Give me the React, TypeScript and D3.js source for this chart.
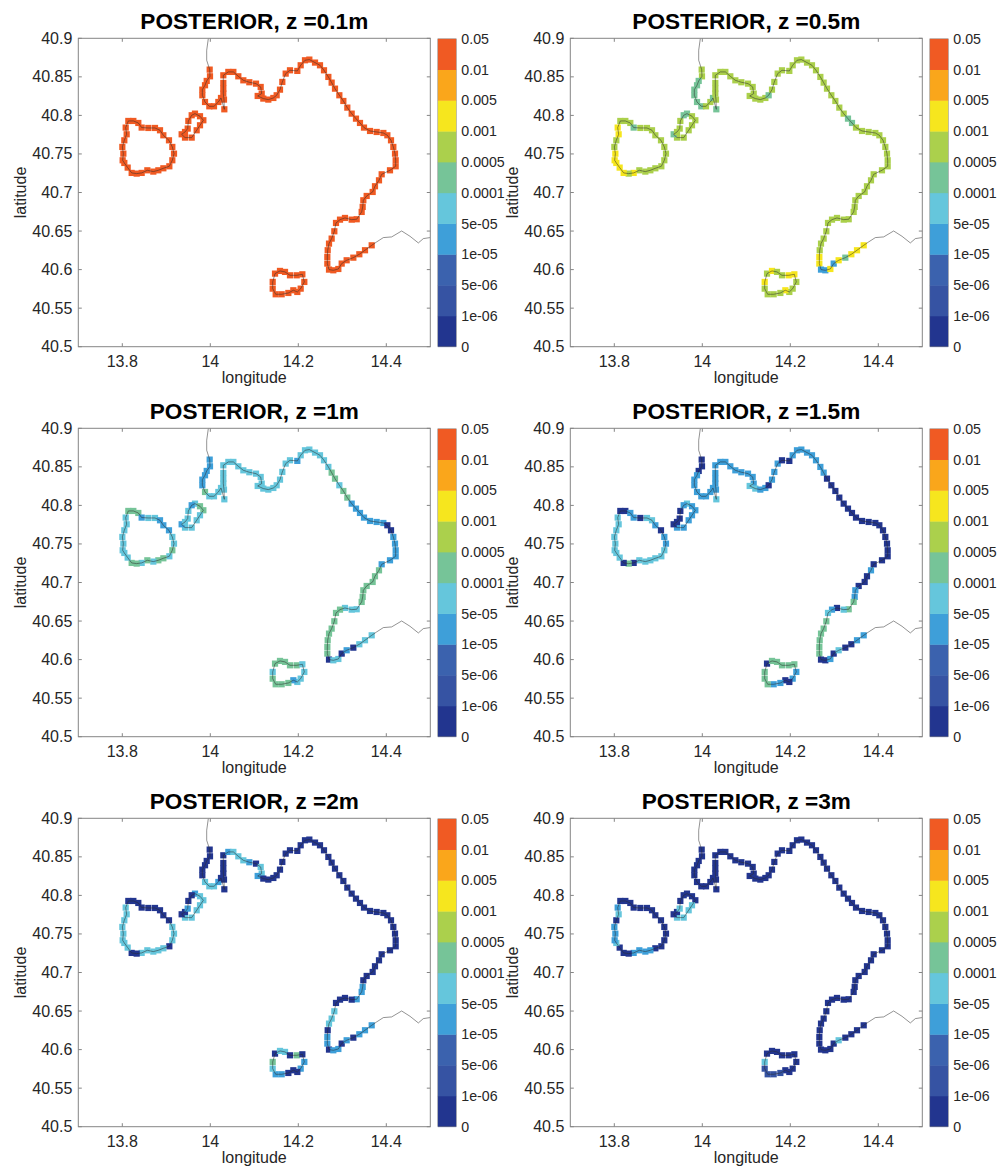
import React from "react";
import * as d3 from "d3";

// band representatives (a value falling in each colour class)
const N = 5e-7, M = 3e-6, B = 3e-5, C = 7e-5, T = 3e-4, L = 7e-4, Y = 3e-3, R = 0.03;

const bandEdges = [1e-6, 5e-6, 1e-5, 5e-5, 1e-4, 5e-4, 1e-3, 5e-3, 1e-2];
const bandColors = ["#22358f", "#3653a3", "#3b62ae", "#3e9fd9", "#65c6dc", "#76c498", "#abd04c", "#f6e61e", "#faa61b", "#f05a23"];
const barLabels = ["0", "1e-06", "5e-06", "1e-05", "5e-05", "0.0001", "0.0005", "0.001", "0.005", "0.01", "0.05"];

const xTicks = [13.8, 14, 14.2, 14.4];
const yTicks = [40.5, 40.55, 40.6, 40.65, 40.7, 40.75, 40.8, 40.85, 40.9];
const titles = ["POSTERIOR, z =0.1m", "POSTERIOR, z =0.5m", "POSTERIOR, z =1m", "POSTERIOR, z =1.5m", "POSTERIOR, z =2m", "POSTERIOR, z =3m"];

// coast without stations
const northLon = [13.9955, 13.9918, 13.9918, 13.9986];
const northLat = [40.8996, 40.8845, 40.8715, 40.8594];
const eastLon = [14.3668, 14.3781, 14.3933, 14.4122, 14.4349, 14.4539, 14.4728, 14.4842, 14.4993];
const eastLat = [40.6315, 40.6359, 40.6415, 40.6424, 40.6501, 40.6432, 40.6346, 40.6402, 40.6415];

// mainland stations
const mainLon = [13.9986, 13.9993, 13.9918, 13.988, 13.9819, 13.9819, 13.988, 13.9978, 14.0084, 14.0183,
  14.0243, 14.0319, 14.0311, 14.0296, 14.0296, 14.0296, 14.0296, 14.041, 14.0524, 14.0637,
  14.0751, 14.0887, 14.1039, 14.1145, 14.1168, 14.1077, 14.1205, 14.1319, 14.1433, 14.1508,
  14.1584, 14.1637, 14.1713, 14.1811, 14.1978, 14.2054, 14.2152, 14.2251, 14.238, 14.2493,
  14.2584, 14.2683, 14.2758, 14.2834, 14.2933, 14.3024, 14.3114, 14.3213, 14.3311, 14.3402,
  14.3493, 14.363, 14.3781, 14.3933, 14.4024, 14.4107, 14.416, 14.4198, 14.4213, 14.4213,
  14.4084, 14.3895, 14.3834, 14.3743, 14.369, 14.3554, 14.3478, 14.3463, 14.344, 14.3327,
  14.3213, 14.3061, 14.2948, 14.2857, 14.2819, 14.2758, 14.2698, 14.2668, 14.266, 14.266,
  14.2698, 14.2796, 14.291, 14.2986, 14.3099, 14.3251, 14.3387, 14.3516, 14.3668];
const mainLat = [40.8594, 40.8507, 40.8447, 40.8391, 40.8334, 40.8261, 40.8174, 40.8118, 40.8118, 40.8174,
  40.8226, 40.8079, 40.8205, 40.8283, 40.8347, 40.8421, 40.852, 40.8564, 40.8564, 40.8507,
  40.8455, 40.843, 40.8412, 40.8369, 40.8283, 40.8252, 40.8218, 40.8205, 40.8226, 40.8261,
  40.8334, 40.8434, 40.8542, 40.8585, 40.8577, 40.865, 40.8715, 40.8724, 40.8685, 40.865,
  40.8585, 40.8499, 40.8425, 40.8347, 40.8261, 40.8187, 40.8101, 40.8023, 40.7958, 40.7902,
  40.7842, 40.7798, 40.7785, 40.7772, 40.7742, 40.7677, 40.7591, 40.7504, 40.7418, 40.734,
  40.7288, 40.7236, 40.7158, 40.7081, 40.7007, 40.6955, 40.6899, 40.6813, 40.6748, 40.6653,
  40.6648, 40.667, 40.6648, 40.6605, 40.6497, 40.6402, 40.6337, 40.6251, 40.6164, 40.6078,
  40.6, 40.5991, 40.6008, 40.6078, 40.6121, 40.6155, 40.6199, 40.6251, 40.6315];

const ischiaLon = [13.8137, 13.8251, 13.8364, 13.844, 13.8592, 13.8743, 13.8857, 13.8933, 13.9061, 13.9137,
  13.9175, 13.9137, 13.9069, 13.8933, 13.8819, 13.8705, 13.8569, 13.844, 13.8327, 13.8213,
  13.8122, 13.8046, 13.8008, 13.8024, 13.8001, 13.8046, 13.8099, 13.8077];
const ischiaLat = [40.7928, 40.7928, 40.7902, 40.7842, 40.7837, 40.7837, 40.7807, 40.7742, 40.7677, 40.7591,
  40.7504, 40.7418, 40.734, 40.7314, 40.7288, 40.7271, 40.7288, 40.7254, 40.7245, 40.7254,
  40.7323, 40.7383, 40.7418, 40.7504, 40.7591, 40.7677, 40.7755, 40.7842];

const procidaLon = [13.9652, 13.9766, 13.9842, 13.9766, 13.969, 13.9577, 13.9425, 13.9349, 13.9425, 13.9486, 13.9501, 13.9577];
const procidaLat = [40.8023, 40.7989, 40.7937, 40.7872, 40.7807, 40.7712, 40.7712, 40.7755, 40.7785, 40.7829, 40.7928, 40.8002];

const capriLon = [14.1471, 14.1584, 14.1698, 14.1811, 14.1963, 14.2092, 14.2137, 14.2054, 14.1978, 14.1887, 14.1774, 14.1622, 14.1486, 14.1418, 14.1418];
const capriLat = [40.5948, 40.5983, 40.597, 40.5926, 40.5926, 40.5939, 40.584, 40.5753, 40.571, 40.5732, 40.5697, 40.568, 40.568, 40.5753, 40.584];

// station values, order: mainland, Ischia, Procida, Capri
const z01 = [
  R, R, R, R, R, R, R, R, R, R, R, R, R, R, R, R, R, R, R, R, R, R, R, R, R, R, R, R, R, R,
  R, R, R, R, R, R, R, R, R, R, R, R, R, R, R, R, R, R, R, R, R, R, R, R, R, R, R, R, R, R,
  R, R, R, R, R, R, R, R, R, R, R, R, R, R, R, R, R, R, R, R, R, R, R, R, R, R, R, R, R,
  R, R, R, R, R, R, R, R, R, R, R, R, R, R, R, R, R, R, R, R, R, R, R, R, R, R, R, R,
  R, R, R, R, R, R, R, R, R, R, R, R,
  R, R, R, R, R, R, R, R, R, R, R, R, R, R, R,
];
const z05 = [
  L, L, T, T, T, T, T, T, L, L, T, T, L, L, L, L, L, L, L, L, L, L, L, L, L, L, L, L, L, T,
  L, L, L, L, L, L, L, L, L, L, L, L, L, L, L, L, L, L, T, T, L, L, L, L, L, L, L, L, L, L,
  L, L, L, L, L, L, L, L, L, L, L, L, L, L, L, L, L, L, Y, Y, B, B, Y, B, Y, T, Y, Y, Y,
  L, L, L, T, L, L, L, L, L, L, L, L, L, L, L, L, L, Y, L, Y, Y, Y, Y, Y, L, L, Y, Y,
  T, L, L, L, L, L, L, T, L, L, L, T,
  L, Y, L, L, Y, Y, L, L, L, Y, L, L, L, L, Y,
];
const z1 = [
  B, B, B, B, B, B, T, C, C, C, C, C, C, C, C, C, C, C, C, C, C, C, C, C, C, C, C, C, C, C,
  C, C, C, C, B, C, C, C, C, C, C, C, T, T, C, T, T, B, B, B, B, B, B, B, N, N, B, B, B, B,
  B, B, T, T, T, T, T, T, T, C, C, C, T, T, T, T, T, T, T, T, N, C, C, N, B, N, C, C, C,
  T, T, T, B, C, C, B, B, B, C, C, T, C, T, T, C, T, C, T, T, C, C, C, C, C, C, C, C,
  C, T, T, C, C, C, C, B, C, C, C, B,
  T, T, T, T, T, C, C, C, C, B, T, T, T, T, C,
];
const z15 = [
  N, N, N, B, B, B, B, B, B, B, B, C, B, B, B, B, B, B, B, B, B, B, B, B, B, C, C, B, B, N,
  B, B, B, N, N, B, B, B, B, B, B, B, B, N, N, N, N, N, N, N, N, N, N, N, N, N, N, N, N, N,
  N, N, B, N, N, N, B, B, T, T, C, N, B, C, T, T, T, T, T, T, N, N, B, N, C, N, N, B, B,
  N, N, B, B, N, C, C, B, N, B, B, C, C, C, C, C, C, N, T, N, C, C, C, C, C, C, C, C,
  C, B, B, B, B, B, B, N, N, N, N, B,
  N, T, T, T, T, T, B, B, N, N, B, B, T, T, T,
];
const z2 = [
  N, N, N, N, N, N, C, C, C, B, N, N, N, N, N, N, N, B, C, C, C, B, N, C, C, B, N, N, N, N,
  N, N, N, N, N, N, N, N, N, N, N, N, N, N, N, N, N, N, N, N, N, N, N, N, N, N, N, N, N, N,
  N, N, N, N, N, N, N, B, B, B, N, N, N, N, C, C, C, N, B, B, N, B, B, N, B, N, B, B, B,
  N, N, N, N, N, N, N, N, N, C, C, C, N, C, C, C, C, C, N, N, C, C, C, C, C, C, C, C,
  B, C, C, C, C, C, C, N, N, B, N, N,
  N, C, C, N, T, N, B, B, N, N, N, B, B, C, T,
];
const z3 = [
  N, N, N, N, N, N, N, N, N, N, N, N, N, N, N, N, N, N, N, N, N, N, N, N, N, N, N, N, N, N,
  N, N, N, N, N, N, N, N, N, N, N, N, N, N, N, N, N, N, N, N, N, N, N, N, N, N, N, N, N, N,
  N, N, N, N, N, N, N, N, N, N, N, N, N, N, N, N, N, N, N, N, N, N, N, N, C, N, N, N, N,
  N, N, N, N, N, N, N, N, N, N, N, N, N, N, B, B, B, B, N, N, N, C, B, B, B, N, C, B,
  N, N, N, C, C, C, C, N, N, C, N, N,
  N, N, N, N, N, N, N, N, N, N, M, M, M, M, C,
];
const panelValues = [z01, z05, z1, z15, z2, z3];

const colLeft = [78.3, 570.3];
const rowTop = [38.3, 428.3, 818.3];
const axW = 352;
const axH = 308.4;
const barGap = 7.5;
const barW = 18.5;
const sq = 6.2;

const font = "'Liberation Sans', Arial, sans-serif";
const inkText = "#262626";
const axisGrey = "#858585";
const lonAll = [...mainLon, ...ischiaLon, ...procidaLon, ...capriLon];
const latAll = [...mainLat, ...ischiaLat, ...procidaLat, ...capriLat];

const colorOf = d3.scaleThreshold<number, string>().domain(bandEdges).range(bandColors);

function Panel({ left, top, title, values }: { left: number; top: number; title: string; values: number[] }) {
  const x = d3.scaleLinear().domain([13.7, 14.5]).range([left, left + axW]);
  const y = d3.scaleLinear().domain([40.5, 40.9]).range([top + axH, top]);
  const path = (lons: number[], lats: number[], closed = false) => {
    const pts = lons.map((lo, i) => [x(lo), y(lats[i])] as [number, number]);
    return d3.line()(closed ? [...pts, pts[0]] : pts) ?? "";
  };
  const bar = d3.scalePoint<string>().domain(barLabels).range([top + axH, top + 0.5]);
  const barLeft = left + axW + barGap;
  return (
    <g>
      <text x={left + axW / 2} y={top - 9.5} textAnchor="middle" fontFamily={font} fontWeight="bold" fontSize={22.6} fill="#000">{title}</text>
      <rect x={left} y={top} width={axW} height={axH} fill="#fff" />
      <g filter="url(#soft)">
        {values.map((v, i) => (
          <rect key={i} x={x(lonAll[i]) - sq / 2} y={y(latAll[i]) - sq / 2} width={sq} height={sq} fill={colorOf(v)} />
        ))}
      </g>
      <g fill="none" stroke="#2a2a2a" strokeWidth={0.6} strokeOpacity={0.85}>
        <path d={path(northLon, northLat)} />
        <path d={path(mainLon, mainLat)} />
        <path d={path(eastLon, eastLat)} />
        <path d={path(ischiaLon, ischiaLat, true)} />
        <path d={path(procidaLon, procidaLat, true)} />
        <path d={path(capriLon, capriLat, true)} />
      </g>
      <rect x={left} y={top} width={axW} height={axH} fill="none" stroke={axisGrey} strokeWidth={1} />
      {xTicks.map((t) => (
        <g key={t}>
          <line x1={x(t)} x2={x(t)} y1={top + axH} y2={top + axH - 3.5} stroke={axisGrey} />
          <line x1={x(t)} x2={x(t)} y1={top} y2={top + 3.5} stroke={axisGrey} />
          <text x={x(t)} y={top + axH + 20.5} textAnchor="middle" fontFamily={font} fontSize={16} fill={inkText}>{t}</text>
        </g>
      ))}
      {yTicks.map((t) => (
        <g key={t}>
          <line x1={left} x2={left + 3.5} y1={y(t)} y2={y(t)} stroke={axisGrey} />
          <line x1={left + axW} x2={left + axW - 3.5} y1={y(t)} y2={y(t)} stroke={axisGrey} />
          <text x={left - 6} y={y(t) + 5.5} textAnchor="end" fontFamily={font} fontSize={16} fill={inkText}>{t}</text>
        </g>
      ))}
      <text x={left + axW / 2} y={top + axH + 36} textAnchor="middle" fontFamily={font} fontSize={16} fill={inkText}>longitude</text>
      <text transform={`translate(${left - 52.5},${top + axH / 2}) rotate(-90)`} textAnchor="middle" fontFamily={font} fontSize={16} fill={inkText}>latitude</text>
      {bandColors.map((c, i) => {
        const y0 = bar(barLabels[i])!;
        const y1 = bar(barLabels[i + 1])!;
        return <rect key={c} x={barLeft} y={y1} width={barW} height={y0 - y1 + 0.4} fill={c} />;
      })}
      <rect x={barLeft} y={top + 0.5} width={barW} height={axH - 0.5} fill="none" stroke={axisGrey} strokeWidth={0.5} />
      {barLabels.map((l) => (
        <text key={l} x={barLeft + barW + 5} y={bar(l)! + 5} fontFamily={font} fontSize={14.2} fill={inkText}>{l}</text>
      ))}
    </g>
  );
}

export default function App() {
  return (
    <svg width={1008} height={1167} viewBox="0 0 1008 1167" style={{ position: "absolute", left: 0, top: 0, background: "#fff" }}>
      <defs>
        <filter id="soft" x="-5%" y="-5%" width="110%" height="110%">
          <feGaussianBlur stdDeviation={0.35} />
        </filter>
      </defs>
      {rowTop.map((top, r) =>
        colLeft.map((left, c) => {
          const idx = r * 2 + c;
          return <Panel key={idx} left={left} top={top} title={titles[idx]} values={panelValues[idx]} />;
        })
      )}
    </svg>
  );
}
